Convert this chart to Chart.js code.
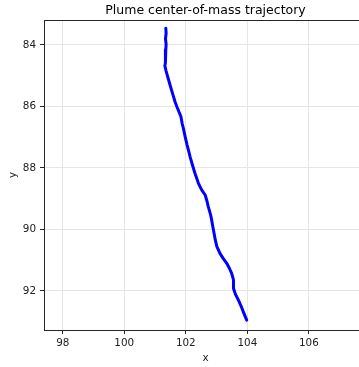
<!DOCTYPE html>
<html>
<head>
<meta charset="utf-8">
<script src="https://cdn.jsdelivr.net/npm/chart.js@4"></script>
<style>
  html, body { margin: 0; padding: 0; background: #fff; overflow: hidden; width: 359px; height: 367px; }
  canvas { display: block; }
</style>
</head>
<body>
<canvas id="traj" width="368" height="367"></canvas>
<script>
const chartTitle = 'Plume center-of-mass trajectory';
const xLabel = 'x';
const yLabel = 'y';
const xTicks = [98, 100, 102, 104, 106];
const yTicks = [84, 86, 88, 90, 92];
const xRange = [97.39, 107.89];
const yRange = [83.19, 93.27];

const trajX = [101.35, 101.36, 101.34, 101.36, 101.35, 101.33, 101.35, 101.33, 101.32, 101.36,
  101.43, 101.50, 101.59, 101.65, 101.71, 101.78, 101.84, 101.88, 101.92, 101.98,
  102.04, 102.10, 102.14, 102.22, 102.30, 102.41, 102.52, 102.63, 102.68, 102.73,
  102.80, 102.84, 102.88, 102.92, 102.96, 103.01, 103.11, 103.22, 103.33, 103.42,
  103.49, 103.55, 103.55, 103.62, 103.71, 103.80, 103.87, 103.94, 103.98];
const trajY = [83.46, 83.62, 83.80, 83.98, 84.15, 84.30, 84.45, 84.58, 84.68, 84.85,
  85.10, 85.35, 85.65, 85.85, 86.01, 86.18, 86.33, 86.55, 86.71, 86.99,
  87.25, 87.48, 87.64, 87.92, 88.18, 88.50, 88.72, 88.88, 89.05, 89.26,
  89.50, 89.69, 89.92, 90.13, 90.35, 90.56, 90.78, 90.95, 91.10, 91.27,
  91.43, 91.64, 91.92, 92.12, 92.30, 92.50, 92.68, 92.85, 92.95];

const points = trajX.map((x, i) => ({ x: x, y: trajY[i] }));
const font = { family: 'DejaVu Sans', size: 10.4 };

// top spine (right one is off the page anyway)
const frame = {
  id: 'frame',
  afterDraw(chart) {
    const a = chart.chartArea;
    const ctx = chart.ctx;
    ctx.save();
    ctx.strokeStyle = '#262626';
    ctx.lineWidth = 1;
    ctx.beginPath();
    ctx.moveTo(a.left, a.top + 0.5);
    ctx.lineTo(a.right, a.top + 0.5);
    ctx.lineTo(a.right - 0.5, a.bottom);
    ctx.stroke();
    ctx.restore();
  }
};

new Chart(document.getElementById('traj'), {
  type: 'scatter',
  data: {
    datasets: [{
      data: points,
      showLine: true,
      borderColor: '#0000ff',
      borderWidth: 3,
      borderJoinStyle: 'round',
      borderCapStyle: 'round',
      pointRadius: 0,
      tension: 0
    }]
  },
  options: {
    responsive: false,
    animation: false,
    layout: { padding: { top: 0, left: 0, right: 1, bottom: 0 } },
    plugins: {
      legend: { display: false },
      tooltip: { enabled: false },
      title: {
        display: true,
        text: chartTitle,
        fullSize: false,
        color: '#000',
        font: { family: 'DejaVu Sans', size: 12.5, weight: 'normal' },
        padding: { top: 3, bottom: 2 }
      }
    },
    scales: {
      x: {
        type: 'linear',
        min: xRange[0],
        max: xRange[1],
        afterBuildTicks: s => { s.ticks = xTicks.map(v => ({ value: v })); },
        afterFit: s => { s.height = 37; },
        ticks: { color: '#222', font: font, padding: 3, maxRotation: 0 },
        grid: { color: '#e6e6e6', tickColor: '#262626', tickLength: 4, lineWidth: 1 },
        border: { color: '#262626', width: 1 },
        title: { display: true, text: xLabel, color: '#222', font: font, padding: { top: 0, bottom: 2 } }
      },
      y: {
        type: 'linear',
        reverse: true,
        min: yRange[0],
        max: yRange[1],
        afterBuildTicks: s => { s.ticks = yTicks.map(v => ({ value: v })); },
        afterFit: s => { s.width = 44; },
        ticks: { color: '#222', font: font, padding: 4 },
        grid: { color: '#e6e6e6', tickColor: '#262626', tickLength: 4, lineWidth: 1 },
        border: { color: '#262626', width: 1 },
        title: { display: true, text: yLabel, color: '#222', font: font, padding: { top: 7, bottom: 0 } }
      }
    }
  },
  plugins: [frame]
});
</script>
</body>
</html>
